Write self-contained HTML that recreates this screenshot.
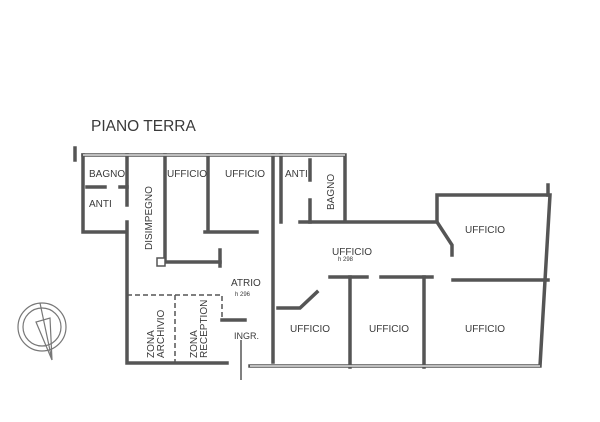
<!DOCTYPE html>
<html><head><meta charset="utf-8"><style>
html,body{margin:0;padding:0;background:#fff;width:600px;height:422px;overflow:hidden}
svg text{font-family:"Liberation Sans",Arial,sans-serif;fill:#3a3a3a}
</style></head><body>
<svg width="600" height="422" viewBox="0 0 600 422" xmlns="http://www.w3.org/2000/svg">
<g stroke="#555" stroke-width="3.5" fill="none" stroke-linecap="square">
<path d="M83 155 H345 V220"/>
<path d="M83 155 V232 H125"/>
<path d="M75 148 V160"/>
<path d="M127 222 V363 H227"/>
<path d="M250 366 H540 L550 195 H437 V222 H300"/>
<path d="M548 185 V195"/>
<path d="M127 155 V205"/>
<path d="M87 187 H105 M120 187 H127"/>
<path d="M165 155 V262 H220"/>
<path d="M220 250 V266"/>
<path d="M208 155 V232 M205 232 H257"/>
<path d="M273 155 V362"/>
<path d="M281 155 V222"/>
<path d="M310 160 V180 M310 200 V222"/>
<path d="M453 280 H548"/>
<path d="M330 277 H367 M381 277 H432"/>
<path d="M350 277 V367 M424 277 V367"/>
<path d="M278 308 H300 L317 292"/>
<path d="M437 222 L452 245 V255"/>
<path d="M222 320 H245"/>
</g>
<g stroke="#fff" stroke-width="1.2" fill="none">
<path d="M83 155 H345 M250 366 H540"/>
</g>
<rect x="157" y="258" width="8" height="8" fill="#fff" stroke="#555" stroke-width="1.5"/>
<g stroke="#555" stroke-width="1.5" fill="none" stroke-dasharray="5,3">
<path d="M127 295 H222 V320"/>
<path d="M175 295 V363"/>
</g>
<path d="M241 340 V380" stroke="#555" stroke-width="1.5"/>
<g stroke="#777" stroke-width="1.2" fill="none">
<circle cx="42" cy="327" r="24"/>
<circle cx="42" cy="327" r="19"/>
<path d="M40 303 L52 360 L36 322 L50 318 L52 360"/>
</g>
<text x="91" y="131" font-size="15.5">PIANO TERRA</text>
<g font-size="10">
<text x="89" y="177">BAGNO</text>
<text x="89" y="207">ANTI</text>
<text x="167" y="177">UFFICIO</text>
<text x="225" y="177">UFFICIO</text>
<text x="285" y="177">ANTI</text>
<text x="332" y="255">UFFICIO</text>
<text x="465" y="233">UFFICIO</text>
<text x="231" y="286">ATRIO</text>
<text x="290" y="332">UFFICIO</text>
<text x="369" y="332">UFFICIO</text>
<text x="465" y="332">UFFICIO</text>
<text x="234" y="339" font-size="9">INGR.</text>
<text x="338" y="261" font-size="6">h 298</text>
<text x="235" y="296" font-size="6">h 296</text>
<text transform="translate(334,210) rotate(-90)">BAGNO</text>
<text transform="translate(152,250) rotate(-90)">DISIMPEGNO</text>
<text transform="translate(154,358) rotate(-90)">ZONA</text>
<text transform="translate(164,358) rotate(-90)">ARCHIVIO</text>
<text transform="translate(197,358) rotate(-90)">ZONA</text>
<text transform="translate(207,358) rotate(-90)">RECEPTION</text>
</g>
</svg>
</body></html>
